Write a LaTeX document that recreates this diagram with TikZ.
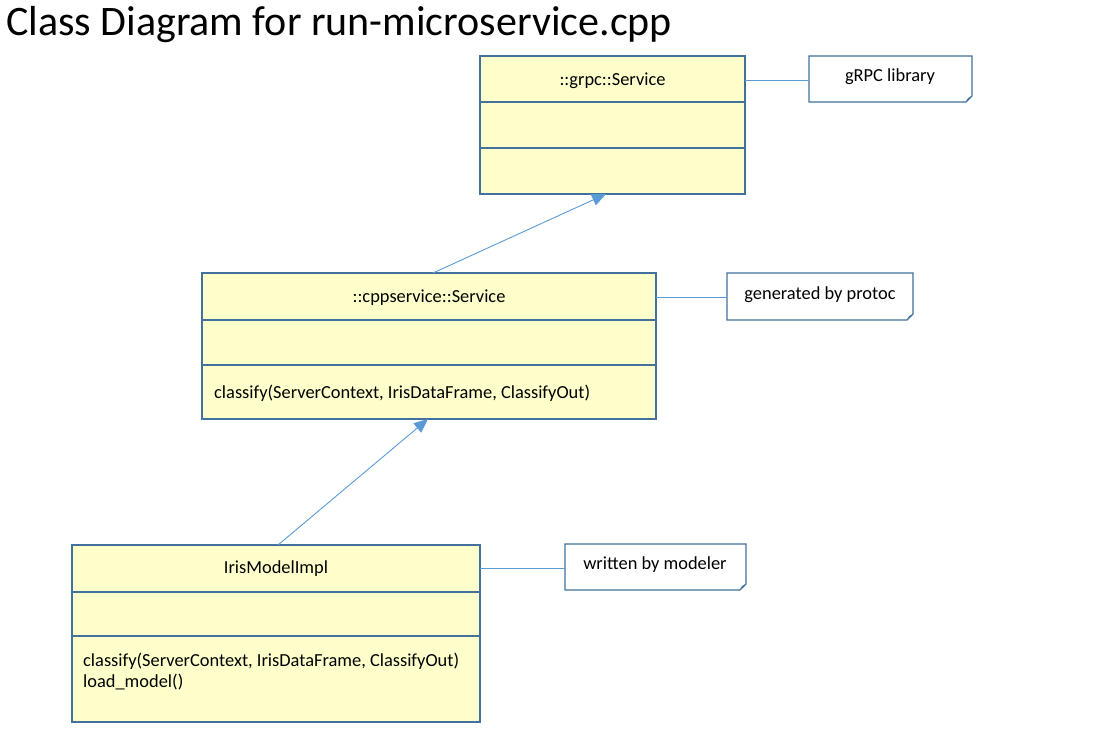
\documentclass[tikz,border=0pt]{standalone}
\usepackage{fontspec}
\setmainfont{Carlito}
\usetikzlibrary{arrows.meta}
\definecolor{boxline}{RGB}{65,113,156}
\definecolor{boxfill}{RGB}{255,255,204}
\definecolor{conn}{RGB}{91,155,213}
\tikzset{
  classbox/.style={draw=boxline, fill=boxfill, line width=1.2pt},
  divider/.style={draw=boxline, line width=1.2pt},
  notebox/.style={draw=boxline, fill=white, line width=1.2pt},
  conline/.style={draw=conn, line width=0.9pt},
  inherit/.style={draw=conn, line width=0.9pt, -{Triangle[length=14pt,width=12pt,fill=conn]}},
  lbl/.style={font=\fontsize{18.4}{22}\selectfont, inner sep=0pt},
}
\newcommand{\notepath}[4]{% x1,y1,x2,y2
  \path[notebox] (#1,#2) -- (#3,#2) -- (#3,#4-6) -- (#3-6,#4) -- (#1,#4) -- cycle;
  \fill[boxline] (#3,#4-6) -- (#3-6,#4) -- (#3-4,#4-4) -- cycle;
}
\begin{document}
\begin{tikzpicture}[x=1pt,y=-1pt]
\useasboundingbox (0,0) rectangle (1120,735);
\node[anchor=west, inner sep=0pt, font=\fontsize{42}{46}\selectfont] (title) at (6,25) {Class Diagram for run-microservice.cpp};

% grpc Service
\path[classbox] (480,56) rectangle (745,194);
\draw[divider] (480,102) -- (745,102);
\draw[divider] (480,148) -- (745,148);
\node[lbl] (grpc) at (612.5,81) {::grpc::Service};
\coordinate (grpcR) at (745,80);
\coordinate (grpcB) at (606,194);

% note gRPC
\notepath{809}{56}{972}{102}
\node[lbl] (n1) at (890,77) {gRPC library};
\coordinate (n1L) at (809,80);
\draw[conline] (grpcR) -- (n1L);

% cppservice
\path[classbox] (202,273) rectangle (656,419);
\draw[divider] (202,320) -- (656,320);
\draw[divider] (202,365) -- (656,365);
\node[lbl] (cpp) at (429,298) {::cppservice::Service};
\node[lbl, anchor=west] (cppm) at (214,393) {classify(ServerContext, IrisDataFrame, ClassifyOut)};
\coordinate (cppT) at (433,273);
\coordinate (cppR) at (656,297);
\coordinate (cppB) at (428,419);

% note protoc
\notepath{727}{273}{913}{320}
\node[lbl] (n2) at (820,295) {generated by protoc};
\coordinate (n2L) at (727,297);
\draw[conline] (cppR) -- (n2L);

\draw[inherit] (cppT) -- (grpcB);

% IrisModelImpl
\path[classbox] (72,545) rectangle (480,722);
\draw[divider] (72,592) -- (480,592);
\draw[divider] (72,636) -- (480,636);
\node[lbl] (iris) at (276,569) {IrisModelImpl};
\node[lbl, anchor=west] (irism1) at (83,661) {classify(ServerContext, IrisDataFrame, ClassifyOut)};
\node[lbl, anchor=west] (irism2) at (83,682) {load\_model()};
\coordinate (irisT) at (278,545);
\coordinate (irisR) at (480,568);

% note modeler
\notepath{565}{544}{746}{590}
\node[lbl] (n3) at (655,565) {written by modeler};
\coordinate (n3L) at (565,568);
\draw[conline] (irisR) -- (n3L);

\draw[inherit] (irisT) -- (cppB);
\end{tikzpicture}
\end{document}
